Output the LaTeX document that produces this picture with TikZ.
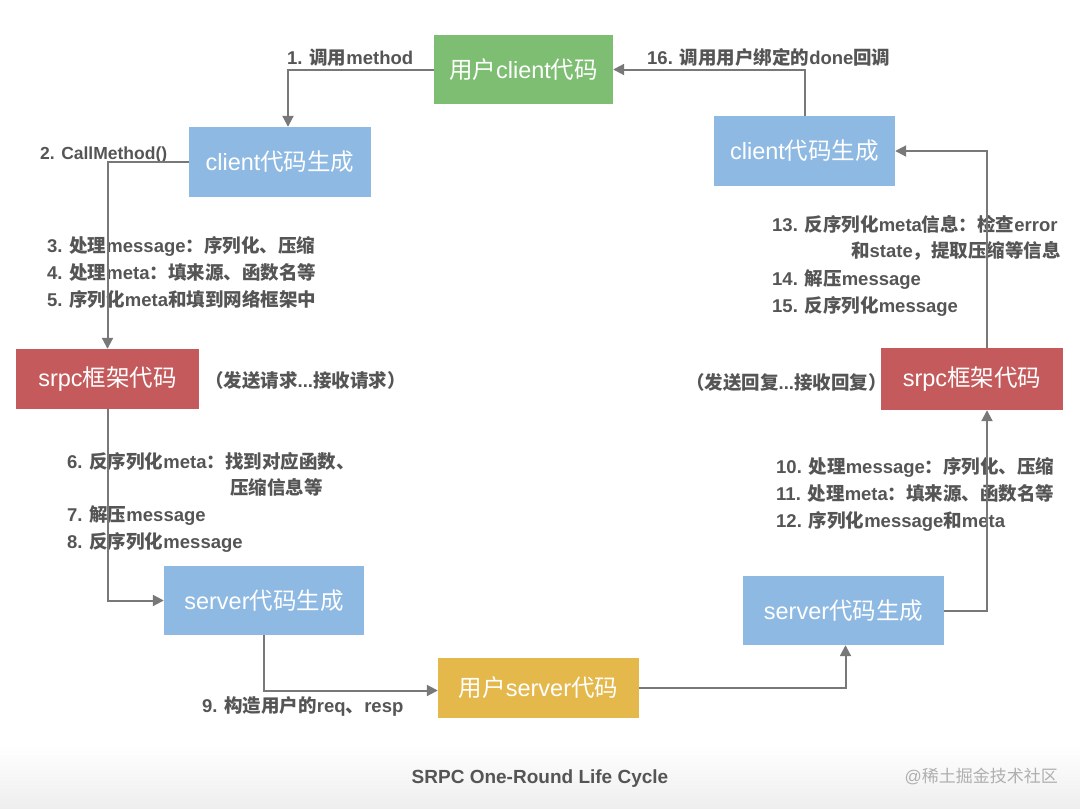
\documentclass[tikz,border=0pt]{standalone}
\usepackage{fontspec}
\setmainfont{Liberation Sans}
\newfontfamily\cjkfont{Noto Sans CJK SC}
\newfontfamily\latfont{Liberation Sans}
\usetikzlibrary{arrows.meta}
\XeTeXinterchartokenstate=1
\newXeTeXintercharclass\cjkclass
\makeatletter
\count@="3000 \loop \XeTeXcharclass\count@=\cjkclass \advance\count@ 1 \ifnum\count@<"3040 \repeat
\count@="4E00 \loop \XeTeXcharclass\count@=\cjkclass \advance\count@ 1 \ifnum\count@<"A000 \repeat
\count@="FF00 \loop \XeTeXcharclass\count@=\cjkclass \advance\count@ 1 \ifnum\count@<"FFF0 \repeat
\makeatother
\XeTeXinterchartoks 0 \cjkclass = {\cjkfont}
\XeTeXinterchartoks 4095 \cjkclass = {\cjkfont}
\XeTeXinterchartoks \cjkclass 0 = {\latfont}
\XeTeXinterchartoks 4095 0 = {\latfont}
\definecolor{gfill}{RGB}{125,190,114}
\definecolor{bfill}{RGB}{142,185,227}
\definecolor{rfill}{RGB}{197,90,92}
\definecolor{yfill}{RGB}{229,184,76}
\definecolor{lab}{RGB}{85,85,85}
\definecolor{ln}{RGB}{120,120,120}
\definecolor{wm}{RGB}{175,175,175}
\definecolor{botg}{RGB}{238,238,238}
\tikzset{
  box/.style={inner sep=0pt, text=white, font=\fontsize{23.5}{26}\selectfont},
  lbl/.style={anchor=base west, inner sep=0pt, text=lab, font=\fontsize{18.5}{20}\selectfont\bfseries},
  arr/.style={draw=ln, line width=2pt, -{Triangle[length=11pt,width=11pt]}},
}
\begin{document}
\begin{tikzpicture}[x=1pt,y=-1pt]
\path[use as bounding box, fill=white] (0,0) rectangle (1080,809);
\shade[top color=white, bottom color=botg] (0,745) rectangle (1080,809);

% boxes
\node[box, fill=gfill, minimum width=179pt, minimum height=69pt] (G) at (523.5,69.5) {用户client代码};
\node[box, fill=bfill, minimum width=182pt, minimum height=70pt] (LC) at (280,162) {client代码生成};
\node[box, fill=bfill, minimum width=181pt, minimum height=70pt] (RC) at (804.5,151) {client代码生成};
\node[box, fill=rfill, minimum width=183pt, minimum height=60pt] (LS) at (107.5,379) {srpc框架代码};
\node[box, fill=rfill, minimum width=182pt, minimum height=62pt] (RS) at (972,379) {srpc框架代码};
\node[box, fill=bfill, minimum width=200pt, minimum height=69pt] (LV) at (264,600.5) {server代码生成};
\node[box, fill=bfill, minimum width=201pt, minimum height=69pt] (RV) at (843.5,610.5) {server代码生成};
\node[box, fill=yfill, minimum width=201pt, minimum height=60pt] (Y) at (538.5,687.5) {用户server代码};

% labels
\node[lbl] (l1) at (287,64) {1. 调用method};
\node[lbl] (l16) at (647,64) {16. 调用用户绑定的done回调};
\node[lbl, font=\fontsize{17.5}{20}\selectfont\bfseries] (l2) at (40,159) {2. CallMethod()};
\node[lbl] (l3) at (47,252) {3. 处理message：序列化、压缩};
\node[lbl] (l4) at (47,279) {4. 处理meta：填来源、函数名等};
\node[lbl] (l5) at (47,306) {5. 序列化meta和填到网络框架中};
\node[lbl] (nL) at (205,387) {（发送请求...接收请求）};
\node[lbl] (nR) at (686,389) {（发送回复...接收回复）};
\node[lbl] (l6) at (67,468) {6. 反序列化meta：找到对应函数、};
\node[lbl] (l6b) at (230,494) {压缩信息等};
\node[lbl] (l7) at (67,521) {7. 解压message};
\node[lbl] (l8) at (67,548) {8. 反序列化message};
\node[lbl] (l9) at (202,712) {9. 构造用户的req、resp};
\node[lbl] (l13) at (772,231) {13. 反序列化meta信息：检查error};
\node[lbl] (l13b) at (851,257) {和state，提取压缩等信息};
\node[lbl] (l14) at (772,285) {14. 解压message};
\node[lbl] (l15) at (772,312) {15. 反序列化message};
\node[lbl] (l10) at (776,473) {10. 处理message：序列化、压缩};
\node[lbl] (l11) at (776,500) {11. 处理meta：填来源、函数名等};
\node[lbl] (l12) at (776,527) {12. 序列化message和meta};

% connectors
\draw[arr] (G.west) -| ([xshift=8pt]LC.north);
\draw[arr] (LC.west) -| (LS.north);
\draw[arr] (LS.south) |- (LV.west);
\draw[arr] (LV.south) |- ([yshift=-3pt]Y.west);
\draw[arr] (Y.east) -| ([xshift=2pt]RV.south);
\draw[arr] (RV.east) -| ([xshift=15pt]RS.south);
\draw[arr] ([xshift=15pt]RS.north) |- (RC.east);
\draw[arr] (RC.north) |- (G.east);

% title and watermark
\node[inner sep=0pt, text=lab, font=\fontsize{19}{22}\selectfont\bfseries] (T) at (540,779) {SRPC One-Round Life Cycle};
\node[inner sep=0pt, anchor=east, text=wm, font=\fontsize{17}{20}\selectfont] (W) at (1058,776) {@稀土掘金技术社区};
\end{tikzpicture}
\end{document}
